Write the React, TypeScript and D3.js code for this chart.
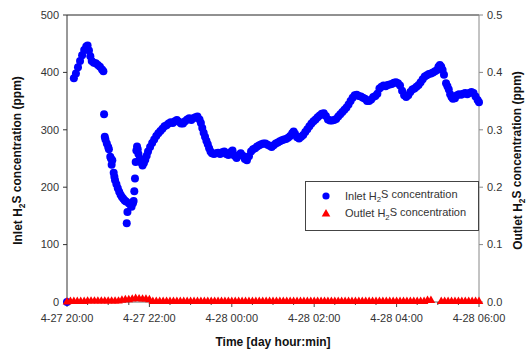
import React from "react";
import * as d3 from "d3";

// Inlet H2S readings: minutes after 4-27 20:00, concentration in ppm
const inletMinutes = [
  0,
  10, 13, 16, 19, 22, 25, 28, 30, 32, 34, 36, 39, 42, 45, 48, 51, 53,
  54, 55, 56, 58, 60, 61, 63, 64, 65, 66, 68, 69, 70, 72, 74, 76, 78, 80, 82, 84, 86, 87, 88, 90, 92, 94, 96, 97, 98, 99,
  100, 101, 102, 103, 104, 106, 108, 110, 112, 114, 116, 118, 121, 124, 127, 130, 133, 136, 139, 142, 145, 148, 151, 154,
  157, 160, 163, 166, 169, 172, 175, 178, 181, 184, 187, 190, 193, 195, 197, 199, 201, 203, 205, 207, 209, 211, 214, 217,
  220, 223, 226, 229, 232, 235, 238, 241, 244, 247, 250, 253, 256, 259, 262, 265, 268, 271, 274, 277, 280, 283, 286, 289,
  292, 295, 298, 301, 304, 307, 310, 313, 316, 319, 322, 325, 328, 330, 332, 335, 338, 341, 344, 347, 350, 353, 356, 359,
  362, 365, 368, 371, 374, 377, 380, 383, 386, 389, 392, 395, 398, 401, 404, 407, 410, 413, 416, 419, 422, 425, 428, 431,
  434, 437, 440, 443, 446, 449, 452, 455, 458, 461, 464, 467, 470, 473, 476, 479, 482, 485, 488, 491, 494, 497, 500, 503,
  506, 509, 512, 515, 518, 521, 524, 527, 530, 533, 536, 539, 541, 543, 545, 547, 549,
  552, 554, 556, 558, 560, 562, 565, 568, 571, 574, 577, 580, 583, 586, 589, 592, 595, 598, 600,
];
const inletPpm = [
  0,
  390, 398, 409, 420, 430, 439, 445, 447, 438, 428, 420, 417, 416, 413, 410, 405, 402,
  327, 288, 283, 276, 270, 266, 253, 250, 239, 247, 225, 218, 212, 205, 198, 192, 187, 183, 180, 177, 175, 137, 157, 172, 170, 166, 172, 176, 193, 215,
  244, 264, 271, 266, 258, 250, 243, 238, 242, 248, 255, 262, 270, 277, 283, 289, 294, 298, 302, 306, 308, 311, 313, 312,
  315, 317, 314, 311, 311, 315, 318, 320, 317, 320, 322, 323, 318, 312, 303, 295, 288, 281, 275, 268, 262, 259, 258, 259,
  260, 258, 261, 262, 258, 256, 261, 264, 255, 251, 256, 259, 255, 249, 247, 254, 262, 266, 268, 271, 273, 275, 276, 276,
  274, 272, 270, 273, 276, 278, 280, 282, 283, 284, 286, 289, 294, 297, 293, 287, 285, 288, 291, 296, 301, 306, 311, 315,
  318, 322, 325, 328, 329, 324, 318, 316, 316, 317, 319, 323, 327, 331, 335, 339, 344, 350, 356, 360, 361, 359, 358, 356,
  354, 350, 350, 353, 357, 359, 363, 372, 375, 377, 376, 378, 379, 380, 382, 383, 381, 377, 368, 360, 357, 360, 366, 370,
  372, 375, 378, 383, 388, 393, 395, 397, 398, 400, 402, 404, 410, 413, 410, 404, 396,
  381, 376, 370, 362, 357, 354, 355, 360, 362, 361, 363, 364, 362, 364, 366, 364, 358, 352, 348,
];

// Outlet H2S readings every 5 minutes from 4-27 20:00, in ppm (null = no reading)
const outletPpm: (number | null)[] = [
  0.0,
  0.001, 0.001, 0.001, 0.001, 0.001,
  0.0015, 0.0015, 0.0015, 0.0015, 0.0015, 0.0015, 0.0015, 0.0015, 0.0015, 0.0015,
  0.003, 0.004, 0.004, 0.005,
  0.006, 0.0055, 0.005, 0.005, 0.004,
  0.001, 0.001, 0.001, 0.001, 0.001, 0.001, 0.001, 0.001, 0.001, 0.001,
  0.001, 0.001, 0.001, 0.001, 0.001, 0.001, 0.001, 0.001, 0.001, 0.001,
  0.001, 0.001, 0.001, 0.001, 0.001, 0.001, 0.001, 0.001, 0.001, 0.001,
  0.001, 0.001, 0.001, 0.001, 0.001, 0.001, 0.001, 0.001, 0.001, 0.001,
  0.001, 0.001, 0.001, 0.001, 0.001, 0.001, 0.001, 0.001, 0.001, 0.001,
  0.001, 0.001, 0.001, 0.001, 0.001, 0.001, 0.001, 0.001, 0.001, 0.001,
  0.001, 0.001, 0.001, 0.001, 0.001, 0.001, 0.001, 0.001, 0.001, 0.001,
  0.001, 0.001, 0.001, 0.001, 0.001, 0.001, 0.001, 0.001, 0.001, 0.001,
  0.0025, 0.0025,
  null, null,
  0.001, 0.001, 0.001, 0.001, 0.001, 0.001, 0.001, 0.001, 0.001, 0.001, 0.001, 0.001,
];
const outletStepMinutes = 5;

const xTickMinutes = [0, 120, 240, 360, 480, 600];
const xTickLabels = ["4-27 20:00", "4-27 22:00", "4-28 00:00", "4-28 02:00", "4-28 04:00", "4-28 06:00"];
const leftTicks = [0, 100, 200, 300, 400, 500];
const rightTicks = [0, 0.1, 0.2, 0.3, 0.4, 0.5];

const W = 527;
const H = 354;
const plot = { left: 67, right: 479, top: 15, bottom: 302 };
const FONT = "Arial, 'Liberation Sans', sans-serif";
const TEXT = "#333";

const x = d3.scaleLinear().domain([0, 600]).range([plot.left, plot.right]);
const yL = d3.scaleLinear().domain([0, 500]).range([plot.bottom, plot.top]);
const yR = d3.scaleLinear().domain([0, 0.5]).range([plot.bottom, plot.top]);
const triangle = d3.symbol().type(d3.symbolTriangle).size(32)();
const minorTicks = d3.range(0, 601, 30);

function H2S({ prefix }: { prefix: string }) {
  return (
    <>
      {prefix} H
      <tspan fontSize="0.7em" dy="0.35em">2</tspan>
      <tspan dy="-0.35em">S concentration</tspan>
    </>
  );
}

export default function App() {
  const outlet = outletPpm
    .map((v, i) => ({ t: i * outletStepMinutes, v }))
    .filter((d) => d.v !== null) as { t: number; v: number }[];

  return (
    <svg
      width={W}
      height={H}
      style={{ position: "absolute", left: 0, top: 0, background: "#fff" }}
      fontFamily={FONT}
    >
      <rect x={0} y={0} width={W} height={H} fill="#fff" />

      {/* frame: top border, left axis, right axis, bottom axis */}
      <line x1={plot.left} x2={plot.right} y1={plot.top} y2={plot.top} stroke="#222" />
      <line x1={plot.left} x2={plot.left} y1={plot.top} y2={plot.bottom} stroke="#333" />
      <line x1={plot.right} x2={plot.right} y1={plot.top} y2={plot.bottom} stroke="#888" />
      <line x1={plot.left} x2={plot.right} y1={plot.bottom} y2={plot.bottom} stroke="#666" />

      {/* left axis ticks */}
      {leftTicks.map((v) => (
        <g key={"l" + v}>
          <line x1={plot.left - 4} x2={plot.left} y1={yL(v)} y2={yL(v)} stroke="#333" />
          <text x={plot.left - 8} y={yL(v)} dy="0.35em" textAnchor="end" fontSize={11} fill={TEXT}>
            {v}
          </text>
        </g>
      ))}

      {/* right axis ticks */}
      {rightTicks.map((v) => (
        <g key={"r" + v}>
          <line x1={plot.right} x2={plot.right + 4} y1={yR(v)} y2={yR(v)} stroke="#888" />
          <text x={plot.right + 8} y={yR(v)} dy="0.35em" textAnchor="start" fontSize={11} fill={TEXT}>
            {d3.format(".1f")(v)}
          </text>
        </g>
      ))}

      {/* x axis ticks */}
      {minorTicks.map((m) => (
        <line
          key={"m" + m}
          x1={x(m)}
          x2={x(m)}
          y1={plot.bottom}
          y2={plot.bottom + (m % 120 === 0 ? 5 : 3)}
          stroke="#444"
        />
      ))}
      {xTickMinutes.map((m, i) => (
        <text key={"x" + m} x={x(m)} y={322} textAnchor="middle" fontSize={11} fill={TEXT}>
          {xTickLabels[i]}
        </text>
      ))}

      {/* inlet series */}
      <g fill="#0000ff">
        {inletMinutes.map((t, i) => (
          <circle key={"i" + i} cx={x(t)} cy={yL(inletPpm[i])} r={4} />
        ))}
      </g>

      {/* outlet series */}
      <g fill="#ff0000">
        {outlet.map((d, i) => (
          <path key={"o" + i} d={triangle!} transform={`translate(${x(d.t)},${yR(d.v)})`} />
        ))}
      </g>

      {/* axis titles */}
      <text
        transform={`translate(22,${(plot.top + plot.bottom) / 2 + 2}) rotate(-90)`}
        textAnchor="middle"
        fontSize={12}
        fontWeight="bold"
        fill="#111"
      >
        <H2S prefix="Inlet" /> (ppm)
      </text>
      <text
        transform={`translate(522,${(plot.top + plot.bottom) / 2 + 2}) rotate(-90)`}
        textAnchor="middle"
        fontSize={12}
        fontWeight="bold"
        fill="#111"
      >
        <H2S prefix="Outlet" /> (ppm)
      </text>
      <text x={273} y={346} textAnchor="middle" fontSize={12} fontWeight="bold" fill="#111">
        Time [day hour:min]
      </text>

      {/* legend */}
      <g>
        <rect x={305.5} y={181.5} width={173} height={49} fill="#fff" stroke="#444" />
        <circle cx={326} cy={196} r={3.6} fill="#0000ff" />
        <path d={triangle!} transform="translate(326,214)" fill="#ff0000" />
        <text x={345} y={199.5} fontSize={11} fill={TEXT}>
          <H2S prefix="Inlet" />
        </text>
        <text x={345} y={217} fontSize={11} fill={TEXT}>
          <H2S prefix="Outlet" />
        </text>
      </g>
    </svg>
  );
}
